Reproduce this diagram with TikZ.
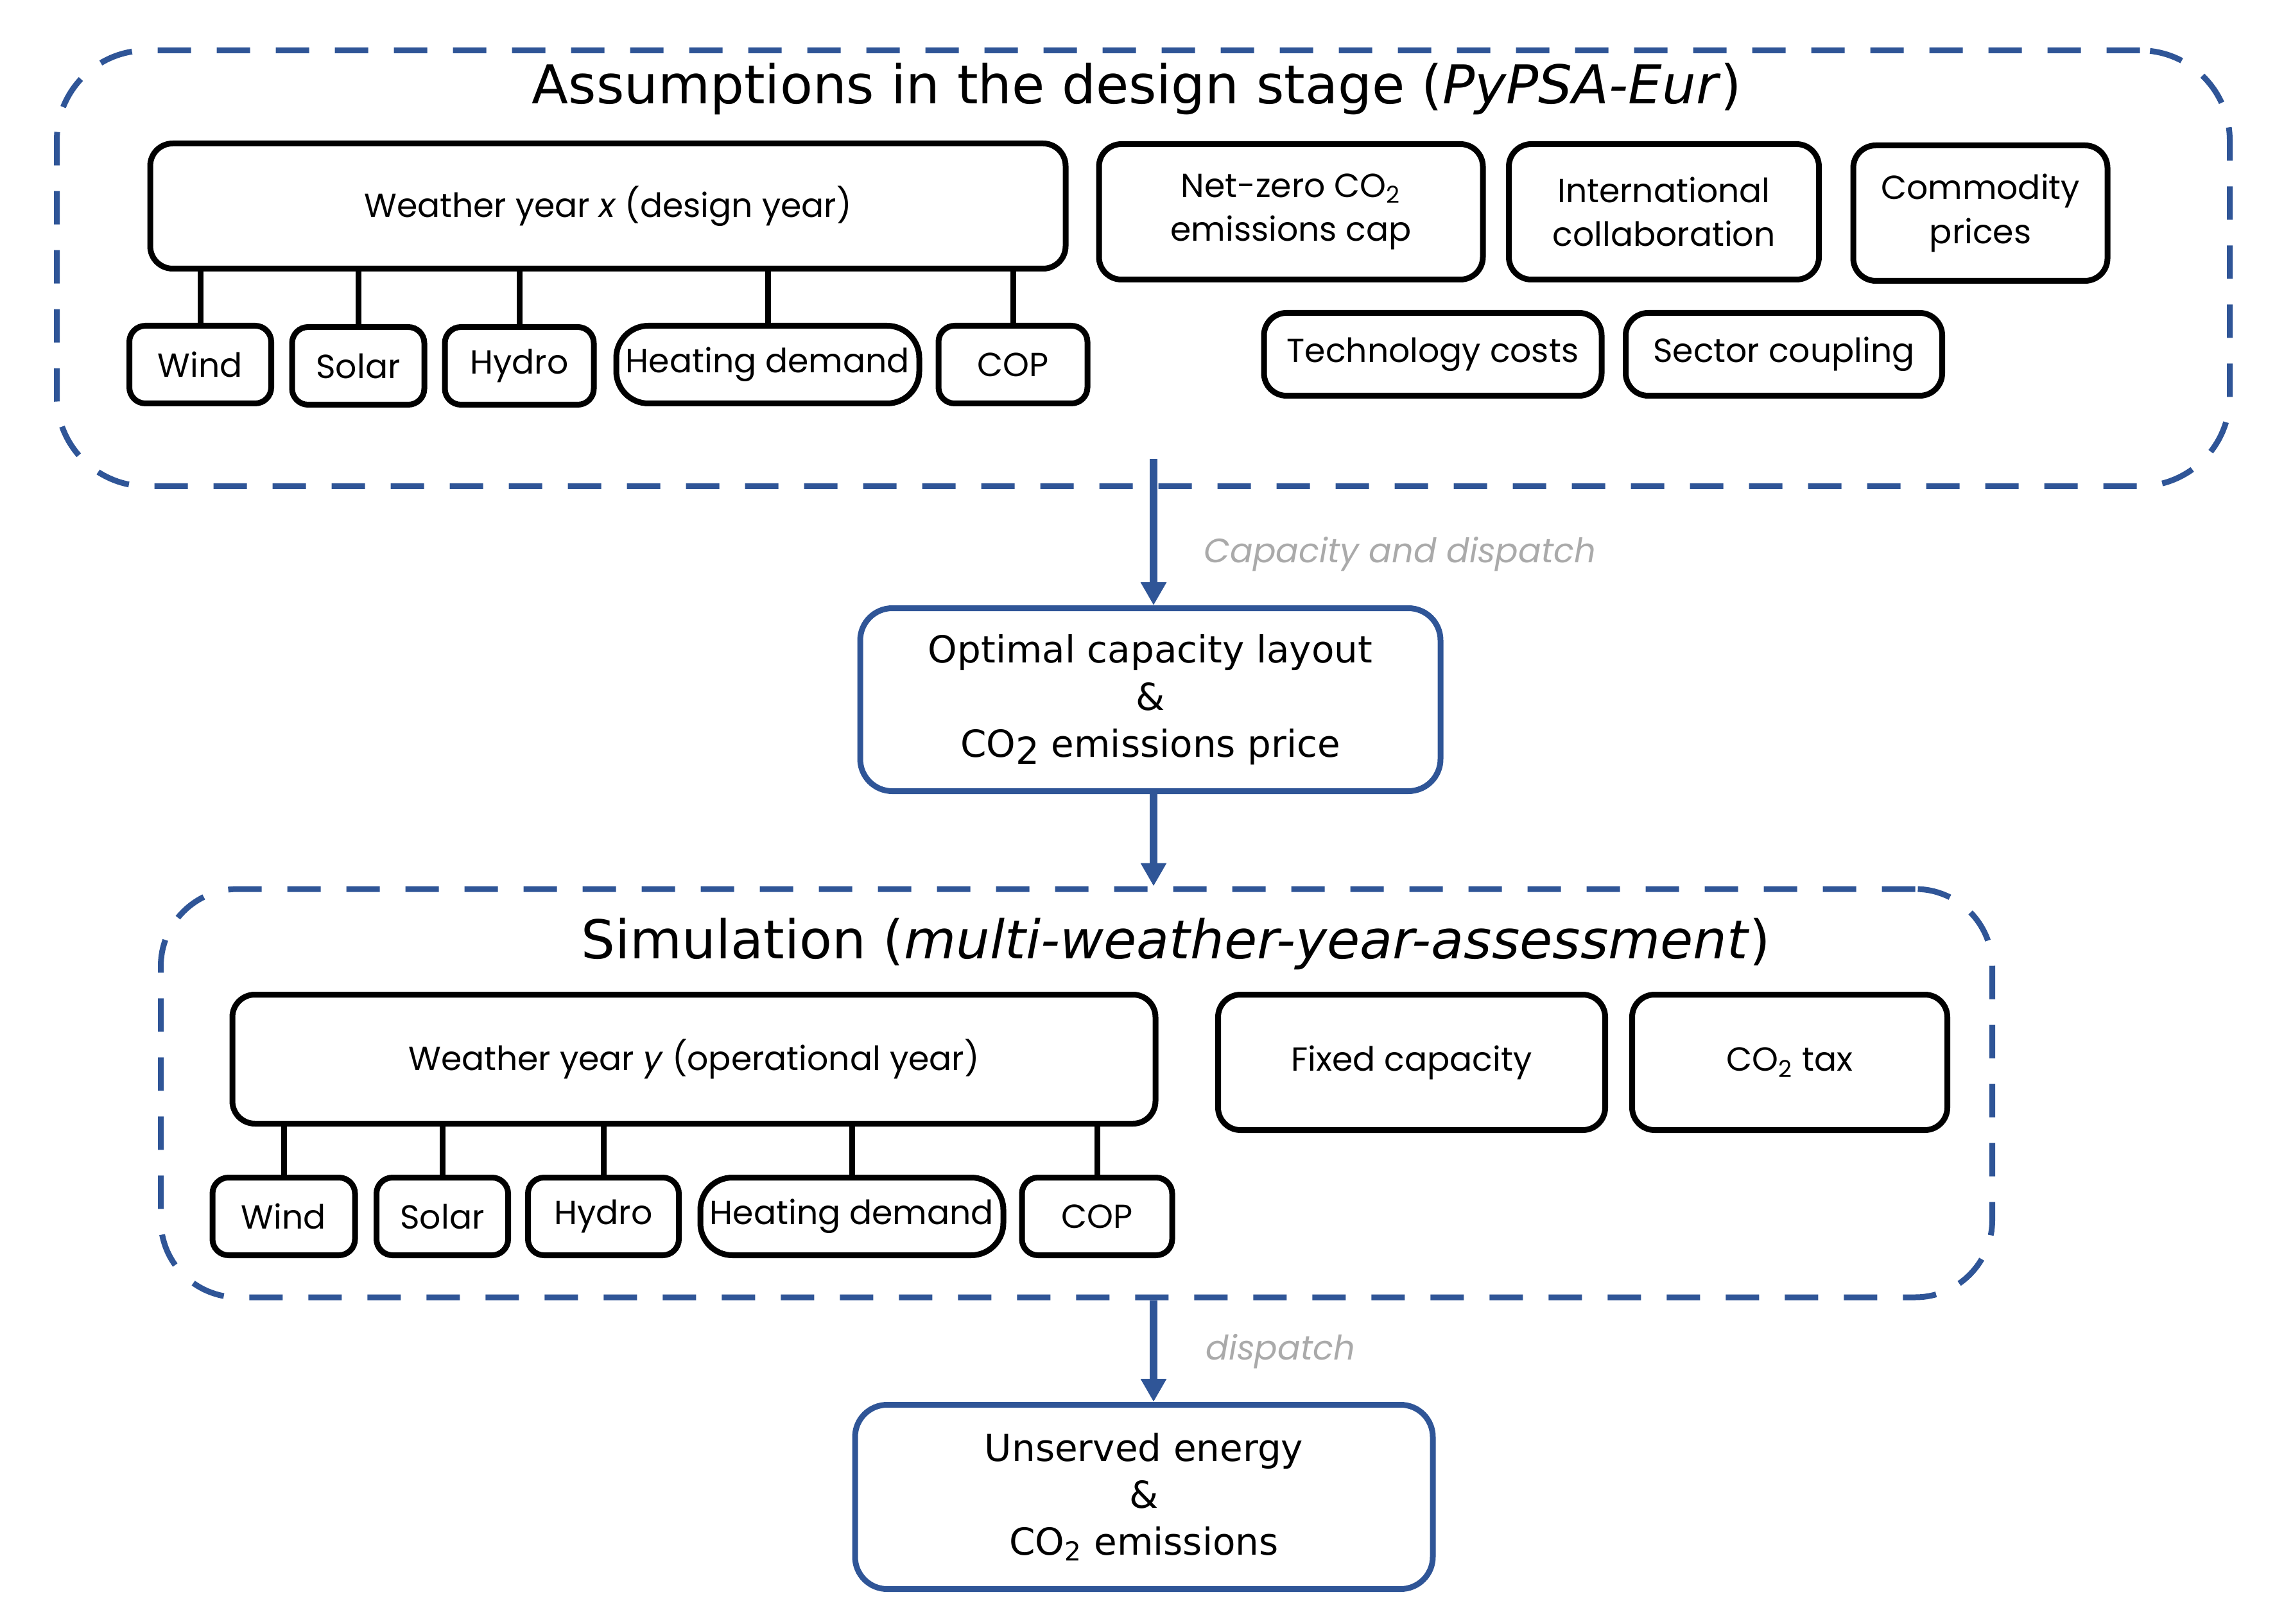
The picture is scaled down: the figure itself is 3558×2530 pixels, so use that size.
\documentclass[tikz,border=0pt]{standalone}
\usepackage{fontspec}
\setmainfont{DejaVu Sans}
\newfontfamily\gothic{Poppins}
\usetikzlibrary{arrows.meta, positioning, calc}

\definecolor{frameblue}{RGB}{47,85,151}
\definecolor{notegray}{RGB}{170,170,170}

\tikzset{
	stage/.style={draw=frameblue, line width=0.9mm, dash pattern=on 5.2mm off 4mm, rounded corners=14mm, inner sep=0pt},
	heading/.style={font=\fontsize{23.7}{28}\selectfont, inner sep=0pt},
	input/.style={draw, line width=0.9mm, rounded corners=3.5mm, align=center, inner sep=0pt, font=\gothic\fontsize{14.8}{19.5}\selectfont},
	result/.style={draw=frameblue, line width=0.9mm, rounded corners=5mm, align=center, inner sep=0pt, font=\fontsize{16.5}{20.8}\selectfont},
	link/.style={line width=0.9mm},
	flow/.style={frameblue, line width=1.2mm, -{Triangle[length=3.6mm, width=3.8mm]}},
	note/.style={notegray, inner sep=0pt, font=\gothic\itshape\fontsize{15}{18}\selectfont},
}

\begin{document}
\begin{tikzpicture}[x=0.1mm, y=-0.1mm]
	\useasboundingbox (0,0) rectangle (3558,2530);
	% design stage
	\node[stage, minimum width=338.5mm, minimum height=67.9mm] (design) at (1781,418) {};
	\node[heading, anchor=base] (designtitle) at (1771,162) {Assumptions in the design stage (\textit{PyPSA-Eur})};
	\node[input, minimum width=142.6mm, minimum height=19.5mm] (wx) at (947,321) {Weather year \textit{x} (design year)};
	\node[input, rounded corners=2.5mm, minimum width=22.1mm, minimum height=12.1mm] (windx) at (312,568) {Wind};
	\node[input, rounded corners=2.5mm, minimum width=20.6mm, minimum height=12.1mm] (solarx) at (558,570) {Solar};
	\node[input, rounded corners=2.5mm, minimum width=23.2mm, minimum height=12.1mm] (hydrox) at (809,570) {Hydro};
	\node[input, rounded corners=5mm, minimum width=47.2mm, minimum height=12.1mm] (heatx) at (1196,568) {Heating demand};
	\node[input, rounded corners=2.5mm, minimum width=23.2mm, minimum height=12.1mm] (copx) at (1578,568) {COP};
	\draw[link] (windx.north) -- (windx.north |- wx.south);
	\draw[link] (solarx.north) -- (solarx.north |- wx.south);
	\draw[link] (hydrox.north) -- (hydrox.north |- wx.south);
	\draw[link] (heatx.north) -- (heatx.north |- wx.south);
	\draw[link] (copx.north) -- (copx.north |- wx.south);
	\node[input, minimum width=59.8mm, minimum height=21.1mm] (netzero) at (2011,330) {Net-zero CO\textsubscript{2}\\emissions cap};
	\node[input, minimum width=48.3mm, minimum height=21.1mm] (intl) at (2592,330) {International\\collaboration};
	\node[input, minimum width=39.6mm, minimum height=21.1mm] (commodity) at (3085,332) {Commodity\\prices};
	\node[input, minimum width=52.6mm, minimum height=12.9mm] (techcost) at (2232,552) {Technology costs};
	\node[input, minimum width=49.3mm, minimum height=12.9mm] (coupling) at (2779,552) {Sector coupling};
	% design result
	\coordinate (flowtop) at (1797,715);
	\node[result, minimum width=90.4mm, minimum height=28.5mm] (layout) at (1792,1090) {Optimal capacity layout\\\&\\CO\raisebox{-.2em}{2} emissions price};
	\draw[flow] (flowtop) -- (flowtop |- layout.north);
	\node[note, anchor=west] (capnote) at (1875,863) {Capacity and dispatch};
	% simulation stage
	\node[stage, rounded corners=12mm, minimum width=285.3mm, minimum height=63.6mm] (sim) at (1677,1703) {};
	\node[heading, anchor=base] (simtitle) at (1832,1493) {Simulation (\textit{multi-weather-year-assessment})};
	\draw[flow] (flowtop |- layout.south) -- (flowtop |- sim.north);
	\node[input, minimum width=143.8mm, minimum height=20.1mm] (wy) at (1081,1650) {Weather year \textit{y} (operational year)};
	\node[input, rounded corners=2.5mm, minimum width=22.2mm, minimum height=12.1mm] (windy) at (442,1895) {Wind};
	\node[input, rounded corners=2.5mm, minimum width=20.5mm, minimum height=12.1mm] (solary) at (689,1895) {Solar};
	\node[input, rounded corners=2.5mm, minimum width=23.5mm, minimum height=12.1mm] (hydroy) at (940,1895) {Hydro};
	\node[input, rounded corners=5mm, minimum width=47.2mm, minimum height=12.1mm] (heaty) at (1327,1895) {Heating demand};
	\node[input, rounded corners=2.5mm, minimum width=23.4mm, minimum height=12.1mm] (copy) at (1709,1895) {COP};
	\draw[link] (windy.north) -- (windy.north |- wy.south);
	\draw[link] (solary.north) -- (solary.north |- wy.south);
	\draw[link] (hydroy.north) -- (hydroy.north |- wy.south);
	\draw[link] (heaty.north) -- (heaty.north |- wy.south);
	\draw[link] (copy.north) -- (copy.north |- wy.south);
	\node[input, minimum width=60.3mm, minimum height=21.1mm] (fixedcap) at (2199,1655) {Fixed capacity};
	\node[input, minimum width=49.1mm, minimum height=21.1mm] (co2tax) at (2788,1655) {CO\textsubscript{2} tax};
	% simulation result
	\node[result, minimum width=90mm, minimum height=28.7mm] (unserved) at (1782,2332) {Unserved energy\\\&\\CO\textsubscript{2} emissions};
	\draw[flow] (flowtop |- sim.south) -- (flowtop |- unserved.north);
	\node[note, anchor=west] (dispnote) at (1878,2105) {dispatch};
\end{tikzpicture}
\end{document}
